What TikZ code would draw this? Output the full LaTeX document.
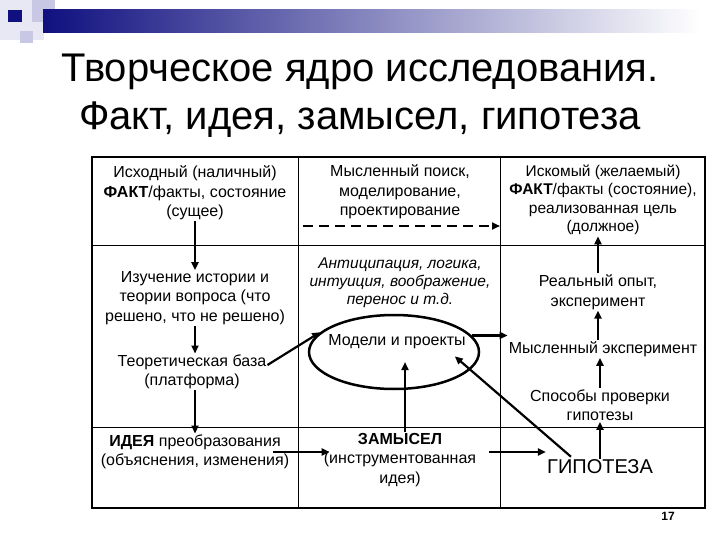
\documentclass[tikz,border=0pt]{standalone}
\usepackage{fontspec}
\setmainfont{Liberation Sans}
\usetikzlibrary{arrows.meta, positioning, shapes.geometric}

\definecolor{decnavy}{RGB}{16,16,128}
\definecolor{declav}{RGB}{200,200,228}
\definecolor{decpale}{RGB}{232,232,244}

\begin{document}
\begin{tikzpicture}[
  x=1pt, y=-1pt,
  cell/.style={align=center, font=\fontsize{16}{19.5}\selectfont, inner sep=1pt},
  arr/.style={-{Triangle[length=8pt,width=7pt]}, line width=2.2pt},
  dasharr/.style={arr, line width=2.6pt, dash pattern=on 10pt off 6pt},
  gridline/.style={line width=0.8pt},
]
  \useasboundingbox (0,0) rectangle (720,540);

  % slide decoration
  \fill[decpale] (0,0) rectangle (44,40);
  \fill[declav] (32,0) rectangle (55,22);
  \fill[declav] (20,31) rectangle (33,43);
  \shade[left color=decnavy, right color=white] (43,10) rectangle (700,33);
  \fill[decnavy] (8,10) rectangle (22,22);

  % title
  \node[align=center, font=\fontsize{40}{48}\selectfont] (title) at (360,96)
    {Творческое ядро исследования.\\Факт, идея, замысел, гипотеза};

  % table
  \draw[gridline] (298,157) -- (298,508) (500,157) -- (500,508)
    (92,245) -- (705,245) (92,427) -- (705,427);
  \draw[line width=2.5pt] (92,157) rectangle (705,508);

  % left column
  \node[cell] (fact) at (195,193) {Исходный (наличный)\\\textbf{ФАКТ}/факты, состояние\\(сущее)};
  \node[cell] (hist) at (195,298) {Изучение истории и\\теории вопроса (что\\решено, что не решено)};
  \node[cell] (base) at (192,372) {Теоретическая база\\(платформа)};
  \node[cell] (idea) at (195,452) {\textbf{ИДЕЯ} преобразования\\(объяснения, изменения)};

  % middle column
  \node[cell] (search) at (400,192) {Мысленный поиск,\\моделирование,\\проектирование};
  \node[cell, font=\fontsize{15.5}{18}\selectfont\itshape] (antic) at (400,283)
    {Антиципация, логика,\\интуиция, воображение,\\перенос и т.д.};
  \node[draw, ellipse, line width=2.5pt, minimum width=170pt, minimum height=74pt] (ell) at (394,352) {};
  \node[cell] (models) at (397,342) {Модели и проекты};
  \node[cell] (plan) at (400,460) {\textbf{ЗАМЫСЕЛ}\\(инструментованная\\идея)};

  % right column
  \node[cell, font=\fontsize{15.5}{18.5}\selectfont] (goal) at (603,200)
    {Искомый (желаемый)\\\textbf{ФАКТ}/факты (состояние),\\реализованная цель\\(должное)};
  \node[cell] (real) at (598,292) {Реальный опыт,\\эксперимент};
  \node[cell] (mexp) at (603,349) {Мысленный эксперимент};
  \node[cell] (ways) at (600,405) {Способы проверки\\гипотезы};
  \node[cell, font=\fontsize{20}{24}\selectfont] (hyp) at (600,467) {ГИПОТЕЗА};
  \node[font=\bfseries\fontsize{12}{14}\selectfont] (num) at (668,516) {17};

  \coordinate (dash1) at (303,226);
  \coordinate (dash2) at (500,226);
  \coordinate (row) at (0,452);

  % connectors
  \draw[arr] (fact.south) -- (hist.north);
  \draw[arr] (hist.south) -- (hist.south |- base.north);
  \draw[arr] (hist.south |- base.south) -- (idea.north);
  \draw[arr] ([yshift=7pt]base.east) -- (ell.165);
  \draw[dasharr] (dash1) -- (dash2);
  \draw[arr] (ell.12) -- (ell.12 -| mexp.west);
  \draw[arr] ([xshift=5pt]plan.north) -- ([xshift=11pt,yshift=-10pt]ell.center);
  \draw[arr] ([xshift=25pt,yshift=2pt]hyp.north west) -- ([xshift=-12pt,yshift=-6pt]models.south east);
  \draw[arr, shorten <=-17pt, shorten >=-7pt] (idea.east |- row) -- (plan.west |- row);
  \draw[arr, shorten <=12pt] (plan.east |- row) -- (hyp.west |- row);
  \draw[arr] (real.north) -- (real.north |- goal.south);
  \draw[arr] (mexp.north -| real.north) -- (real.south);
  \draw[arr] (ways.north) -- (ways.north |- mexp.south);
  \draw[arr] (hyp.north -| ways.north) -- (ways.south);
\end{tikzpicture}
\end{document}
